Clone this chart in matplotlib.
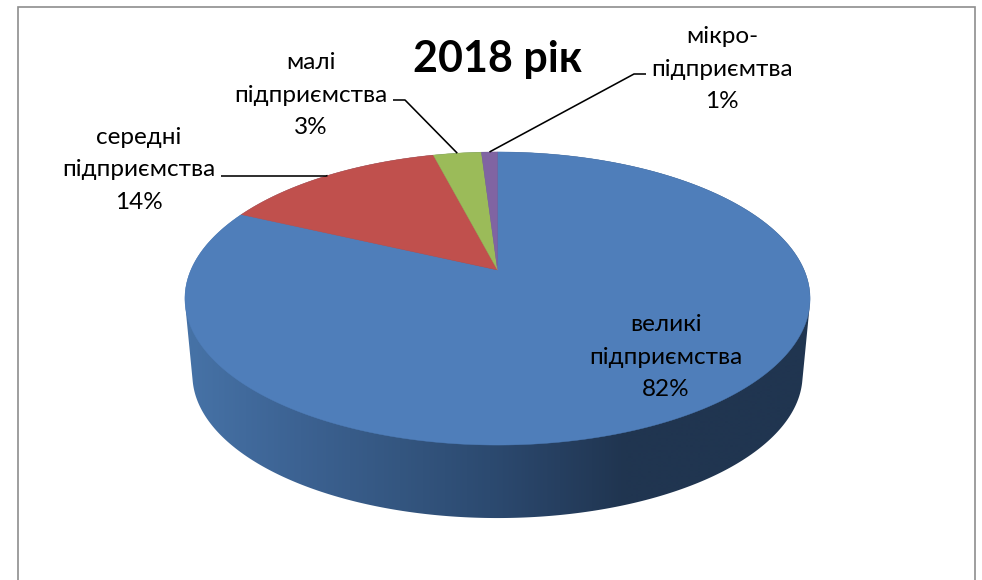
import numpy as np
import matplotlib
matplotlib.use("Agg")
import matplotlib.pyplot as plt
from matplotlib.colors import LinearSegmentedColormap, Normalize
from matplotlib.patches import Polygon

# Share of enterprises by size, percent
categories = ["великі\nпідприємства", "середні\nпідприємства",
              "малі\nпідприємства", "мікро-\nпідприємтва"]
shares = [82, 14, 3, 1]
title = "2018 рік"

slice_colors = ["#4F7EBA", "#C0504D", "#9BBB59", "#8064A2"]
rim_stops = [(190, "#4672A6"), (300, "#3C6292"), (400, "#345680"),
             (490, "#2C4A70"), (560, "#263F60"), (625, "#203550"), (815, "#203550")]
label_font = ["Lato", "Open Sans", "DejaVu Sans"]

# Perspective disc: hub position, horizontal and vertical scale, tilt
HUB_X, HUB_Y = 497.5, 270.0
SCALE_X, SCALE_Y, TILT = 306.6, 141.0, 0.1945
# Lower disc of the extrusion
LOW_HUB_Y, LOW_SCALE = 347.2, 0.976


def project(theta, hub_y=HUB_Y, scale=1.0):
    """Clockwise angle from 12 o'clock to pixel position on the tilted disc."""
    u, v = np.sin(theta), np.cos(theta)
    w = 1 + TILT * v
    return HUB_X + scale * SCALE_X * u / w, hub_y - scale * SCALE_Y * v / w


def convex_hull(points):
    """Monotone chain hull of a list of (x, y) tuples."""
    pts = sorted(set(points))

    def half(seq):
        chain = []
        for p in seq:
            while len(chain) >= 2 and (
                (chain[-1][0] - chain[-2][0]) * (p[1] - chain[-2][1])
                - (chain[-1][1] - chain[-2][1]) * (p[0] - chain[-2][0])
            ) <= 0:
                chain.pop()
            chain.append(p)
        return chain[:-1]

    return half(pts) + half(pts[::-1])


fig = plt.figure(figsize=(9.82, 5.8), dpi=100, facecolor="white")
ax = fig.add_axes([0, 0, 1, 1])
ax.axis("off")

# Chart frame, open at the bottom edge
ax.plot([18, 18, 975.5, 975.5], [582, 6.5, 6.5, 582], color="#8E8E8E", lw=1.2,
        solid_joinstyle="miter", zorder=1)

edges = np.cumsum([0] + shares) / sum(shares) * 2 * np.pi

# Shaded side wall: a horizontal gradient clipped to the outline of both discs
circle = np.linspace(0, 2 * np.pi, 720, endpoint=False)
top_x, top_y = project(circle)
low_x, low_y = project(circle, LOW_HUB_Y, LOW_SCALE)
outline = convex_hull(list(zip(top_x, top_y)) + list(zip(low_x, low_y)))
wall_left, wall_right = 180, 815
norm = Normalize(wall_left, wall_right)
cmap = LinearSegmentedColormap.from_list(
    "rim", [(float(norm(x)), c) for x, c in [(wall_left, rim_stops[0][1])] + rim_stops[:-1] + [(wall_right, rim_stops[-1][1])]],
    N=512)
clip = Polygon(outline, closed=True, transform=ax.transData, fc="none", ec="none")
ax.add_patch(clip)
wall = ax.imshow(np.linspace(0, 1, 636)[None, :], cmap=cmap, vmin=0, vmax=1, aspect="auto",
                 extent=[wall_left, wall_right, 530, 140], zorder=2, interpolation="bilinear")
wall.set_clip_path(clip)

# Top faces of the slices
for start, stop, color in zip(edges[:-1], edges[1:], slice_colors):
    arc = np.linspace(start, stop, 400)
    arc_x, arc_y = project(arc)
    ax.fill(np.r_[HUB_X, arc_x], np.r_[HUB_Y, arc_y], color=color, lw=0.3, zorder=3)

# Leader lines start at the middle of each small slice's arc
mids = (edges[:-1] + edges[1:]) / 2
elbows = {1: [(326, 176), (221, 176)], 2: [(405, 100), (393, 100)], 3: [(634, 74), (646, 74)]}
for idx, path in elbows.items():
    sx, sy = project(mids[idx])
    xs = [sx] + [p[0] for p in path]
    ys = [sy] + [p[1] for p in path]
    ax.plot(xs, ys, color="black", lw=1.15, zorder=4, solid_capstyle="butt")

# Slice labels: name lines followed by the percentage
label_pos = [(666, 357), (139, 170), (311, 95), (722, 69)]
for (x, y), name, share in zip(label_pos, categories, shares):
    ax.text(x, y, f"{name}\n{share}%", ha="center", va="center", fontsize=17.5,
            family=label_font, linespacing=1.66, color="black", zorder=5)

ax.text(497.5, 59, title, ha="center", va="center", fontsize=31, fontweight="bold",
        family=label_font, color="black", zorder=5)

ax.set_xlim(0, 982)
ax.set_ylim(580, 0)

fig.savefig("out.png", dpi=100)
